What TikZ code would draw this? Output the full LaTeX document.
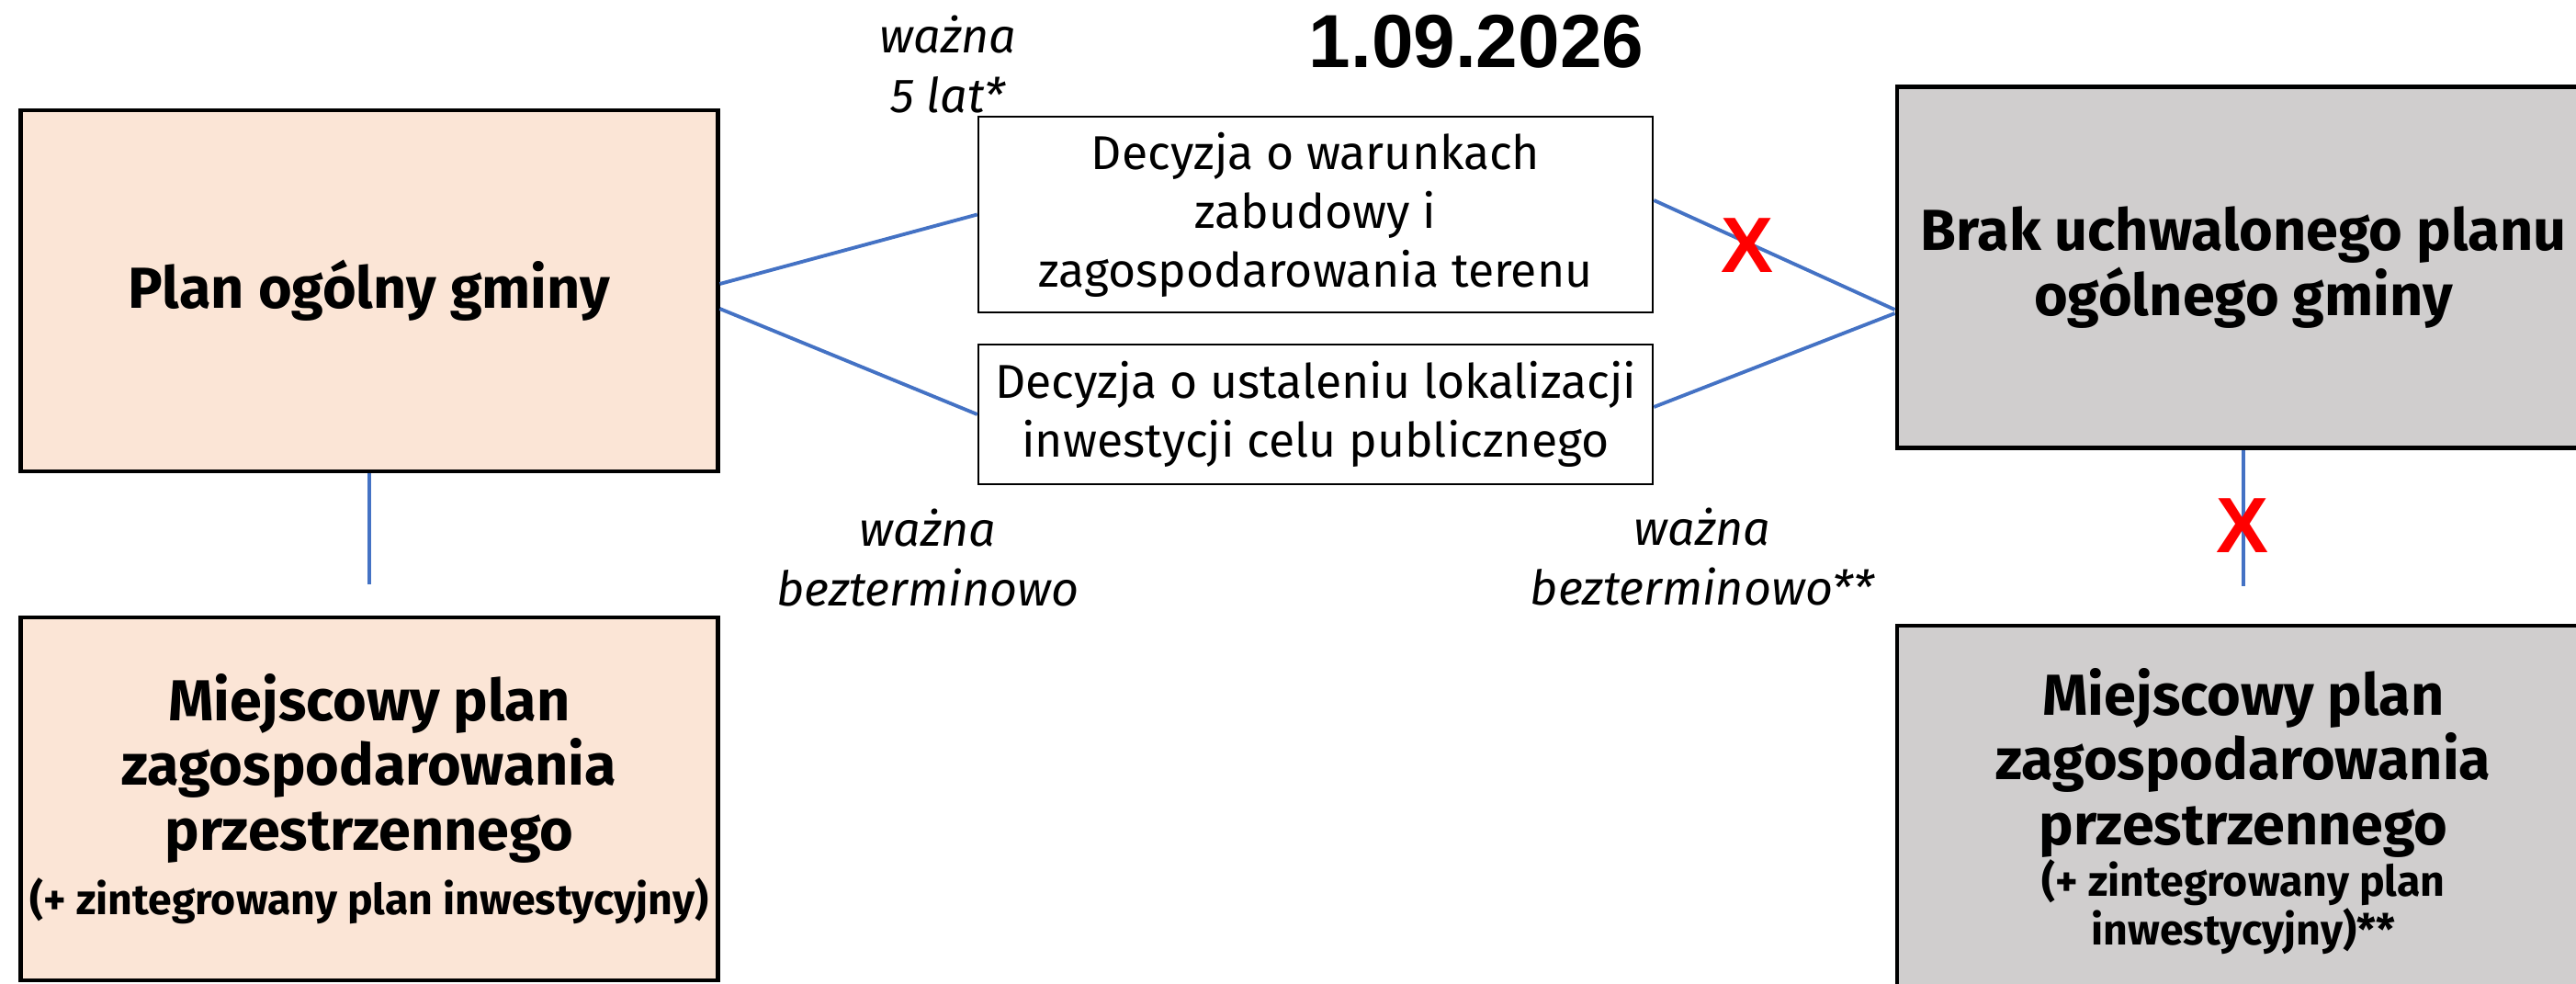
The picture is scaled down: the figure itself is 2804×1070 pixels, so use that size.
\documentclass[tikz,border=0pt]{standalone}
\usepackage{fontspec}
\setmainfont{Fira Sans}
\newfontfamily\condfont{Fira Sans}
\newfontfamily\datefont{Liberation Sans}
\usetikzlibrary{positioning}
\definecolor{planfill}{HTML}{FBE5D6}
\definecolor{brakfill}{HTML}{D0CECE}
\definecolor{linkblue}{HTML}{4472C4}
\definecolor{crossred}{HTML}{FF0000}
\newcommand\notefont{\fontsize{13.2}{15}\selectfont}

\begin{document}
\begin{tikzpicture}[x=0.01cm, y=-0.01cm,
    bigbox/.style={draw, line width=1.3pt, minimum width=7.58cm, minimum height=3.93cm,
                   inner sep=0pt, align=center, font=\condfont\bfseries\fontsize{17.9}{20}\selectfont},
    planbox/.style={bigbox, fill=planfill},
    brakbox/.style={bigbox, fill=brakfill, minimum width=7.54cm},
    decbox/.style={draw, line width=0.6pt, minimum width=7.34cm, inner sep=0pt,
                   align=center, font=\fontsize{14.7}{18.2}\selectfont},
    link/.style={draw=linkblue, line width=1.1pt},
    note/.style={align=center, font=\itshape\fontsize{14.8}{18.4}\selectfont},
    cross/.style={text=crossred, inner sep=0pt, font=\datefont\bfseries\fontsize{24.3}{24.3}\selectfont},
]
    \useasboundingbox (0,0) rectangle (2804,1070);

    \node[planbox] (plan) at (402,316.5) {Plan ogólny gminy};
    \node[planbox, minimum height=3.95cm] (mpzp) at (402,869.5)
        {Miejscowy plan\\zagospodarowania\\przestrzennego\\{\notefont(+ zintegrowany plan inwestycyjny)}};
    \node[decbox, minimum height=2.13cm] (decwz) at (1432,233.5)
        {Decyzja o warunkach\\zabudowy i\\zagospodarowania terenu};
    \node[decbox, minimum height=1.52cm] (deculcp) at (1432,451)
        {Decyzja o ustaleniu lokalizacji\\inwestycji celu publicznego};
    \node[brakbox] (brak) at (2442,291) {Brak uchwalonego planu\\ogólnego gminy};
    \node[brakbox, minimum height=4.04cm] (mpzpbrak) at (2442,883)
        {Miejscowy plan\\zagospodarowania\\przestrzennego\\[-4pt]{\notefont(+ zintegrowany plan}\\[-5pt]{\notefont inwestycyjny)**}};

    \coordinate (planstop) at (402,636);
    \coordinate (brakstop) at (2442,638);

    \draw[link] ([yshift=0.075cm]plan.east) -- (decwz.west);
    \draw[link] ([yshift=-0.195cm]plan.east) -- (deculcp.west);
    \draw[link] ([yshift=0.155cm]decwz.east) -- ([yshift=-0.46cm]brak.west);
    \draw[link] ([yshift=0.08cm]deculcp.east) -- ([yshift=-0.5cm]brak.west);
    \draw[link] (plan.south) -- (planstop);
    \draw[link] (brak.south) -- (brakstop);

    \node[cross] (xwz) at (1902,267) {X};
    \node[cross] (xmpzp) at (2441,572) {X};

    \node[font=\datefont\bfseries\fontsize{23.3}{23.3}\selectfont] (date) at (1607,45) {1.09.2026};
    \node[note] (validwz) at (1032,70) {ważna\\5 lat*};
    \node[note] (validulcp) at (1010,607) {ważna\\bezterminowo};
    \node[note] (validbrak) at (1853,606) {ważna\\bezterminowo**};
\end{tikzpicture}
\end{document}
